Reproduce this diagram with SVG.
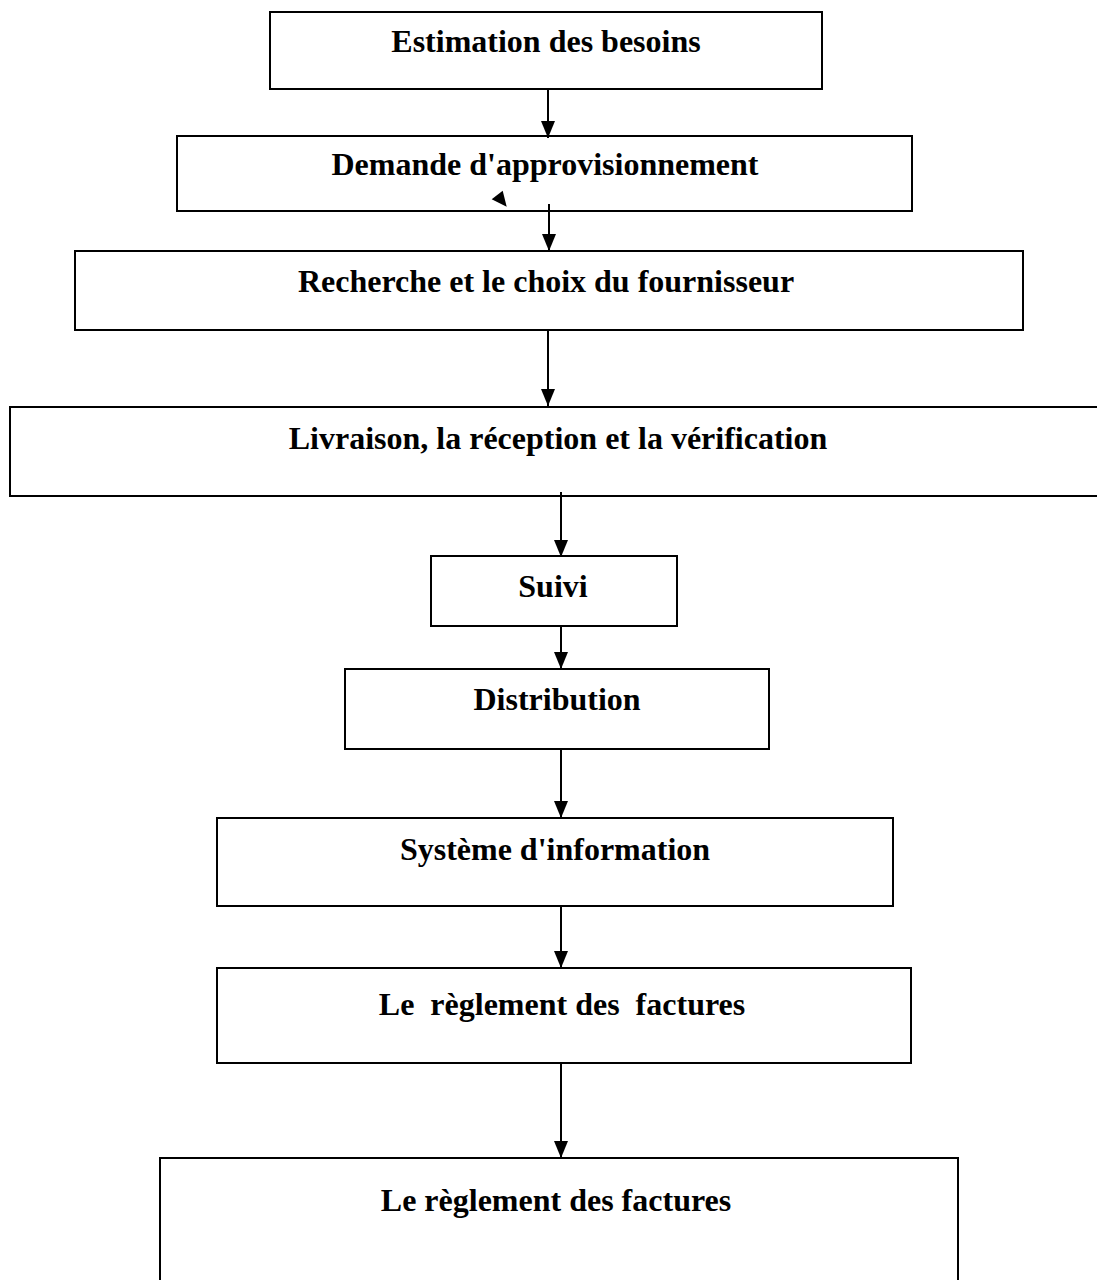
<svg xmlns="http://www.w3.org/2000/svg" width="1097" height="1280" viewBox="0 0 1097 1280">
  <style>
    .box { fill: #ffffff; stroke: #000000; stroke-width: 2; }
    .lbl { font-family: "Liberation Serif", "Times New Roman", serif; font-weight: bold; font-size: 32px; fill: #000000; text-anchor: middle; white-space: pre; }
    .link { stroke: #000000; stroke-width: 2; fill: none; marker-end: url(#head); }
  </style>
  <defs>
    <!-- filled triangular arrowhead, tip at the end of the line -->
    <marker id="head" viewBox="0 0 17 14" refX="17" refY="7" markerWidth="17" markerHeight="14" markerUnits="userSpaceOnUse" orient="auto">
      <path d="M0,0 L17,7 L0,14 Z" fill="#000000"/>
    </marker>
  </defs>
  <rect width="1097" height="1280" fill="#ffffff"/>

  <g id="node-estimation">
    <rect class="box" x="270" y="12" width="552" height="77"/>
    <text class="lbl" x="546" y="52">Estimation des besoins</text>
  </g>
  <g id="node-demande">
    <rect class="box" x="177" y="136" width="735" height="75"/>
    <text class="lbl" x="545" y="175">Demande d'approvisionnement</text>
  </g>
  <g id="node-recherche">
    <rect class="box" x="75" y="251" width="948" height="79"/>
    <text class="lbl" x="546" y="292">Recherche et le choix du fournisseur</text>
  </g>
  <g id="node-livraison">
    <rect class="box" x="10" y="407" width="1095" height="89"/>
    <text class="lbl" x="558" y="449">Livraison, la réception et la vérification</text>
  </g>
  <g id="node-suivi">
    <rect class="box" x="431" y="556" width="246" height="70"/>
    <text class="lbl" x="553" y="597">Suivi</text>
  </g>
  <g id="node-distribution">
    <rect class="box" x="345" y="669" width="424" height="80"/>
    <text class="lbl" x="557" y="710">Distribution</text>
  </g>
  <g id="node-systeme">
    <rect class="box" x="217" y="818" width="676" height="88"/>
    <text class="lbl" x="555" y="860">Système d'information</text>
  </g>
  <g id="node-reglement-1">
    <rect class="box" x="217" y="968" width="694" height="95"/>
    <text class="lbl" x="562" y="1015">Le  règlement des  factures</text>
  </g>
  <g id="node-reglement-2">
    <rect class="box" x="160" y="1158" width="798" height="140"/>
    <text class="lbl" x="556" y="1211">Le règlement des factures</text>
  </g>

  <g id="connectors">
    <line class="link" x1="548" y1="89" x2="548" y2="138"/>
    <line class="link" x1="549" y1="204" x2="549" y2="251"/>
    <line class="link" x1="548" y1="330" x2="548" y2="406"/>
    <line class="link" x1="561" y1="492" x2="561" y2="557"/>
    <line class="link" x1="561" y1="626" x2="561" y2="669"/>
    <line class="link" x1="561" y1="749" x2="561" y2="818"/>
    <line class="link" x1="561" y1="906" x2="561" y2="968"/>
    <line class="link" x1="561" y1="1063" x2="561" y2="1158"/>
    <!-- detached arrowhead left over near the second box -->
    <path d="M491.7,199.3 L502.7,190.7 L506.7,206.7 Z" fill="#000000"/>
  </g>
</svg>
